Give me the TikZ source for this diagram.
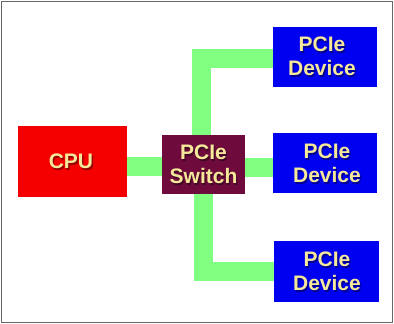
\documentclass[tikz,border=0pt]{standalone}
\usepackage{fontspec}
\setmainfont{Liberation Sans}
\definecolor{lnk}{HTML}{80FF80}
\definecolor{txt}{HTML}{F5E89A}
\definecolor{sw}{HTML}{6E0A3C}
\definecolor{dev}{HTML}{0000F0}
\definecolor{cpu}{HTML}{F50000}
\newcommand{\shdw}[1]{\makebox[0pt][l]{\hspace{1.3pt}\raisebox{-1.6pt}{\pgfsetfillopacity{0.4}\color{black}#1}}\pgfsetfillopacity{1}#1}
\tikzset{
  blk/.style={draw=none, inner sep=0pt},
  lbl/.style={inner sep=0pt, align=center,
    font=\bfseries\fontsize{21}{24}\selectfont, text=txt},
  link/.style={draw=lnk, line width=19pt},
}
\begin{document}
\begin{tikzpicture}[x=1pt,y=-1pt]
\useasboundingbox (0,0) rectangle (394,324);
\fill[white] (0,0) rectangle (394,324);
\draw[gray!80!black, line width=1.2pt] (1.5,1.5) rectangle (392.5,322.5);
% boxes
\node[blk, fill=cpu, minimum width=109pt, minimum height=71pt] (cpu) at (72.5,161.5) {};
\node[blk, fill=sw, minimum width=83pt, minimum height=59pt] (sw) at (203.5,164.5) {};
\node[blk, fill=dev, minimum width=104pt, minimum height=60pt] (d1) at (325,57) {};
\node[blk, fill=dev, minimum width=104pt, minimum height=60pt] (d2) at (325,163) {};
\node[blk, fill=dev, minimum width=105pt, minimum height=61pt] (d3) at (326.5,271.5) {};
% links
\draw[link] ([yshift=-4.5pt]cpu.east) -- ([yshift=-1.5pt]sw.west);
\draw[link] ([yshift=-2.5pt]sw.east) -- ([yshift=-4pt]d2.west);
\draw[link] ([xshift=-2pt]sw.north) |- ([yshift=-1pt]d1.west);
\draw[link] ([xshift=-0.5pt]sw.south) |- (d3.west);
% labels
\node[lbl] (tcpu) at (71,162) {\shdw{CPU}};
\node[lbl] (tsw) at (203.5,165) {\shdw{PCIe}\\\shdw{Switch}};
\node[lbl] (td1) at (322,57) {\shdw{PCIe}\\\shdw{Device}};
\node[lbl] (td2) at (327,164) {\shdw{PCIe}\\\shdw{Device}};
\node[lbl] (td3) at (327,272) {\shdw{PCIe}\\\shdw{Device}};
\end{tikzpicture}
\end{document}
